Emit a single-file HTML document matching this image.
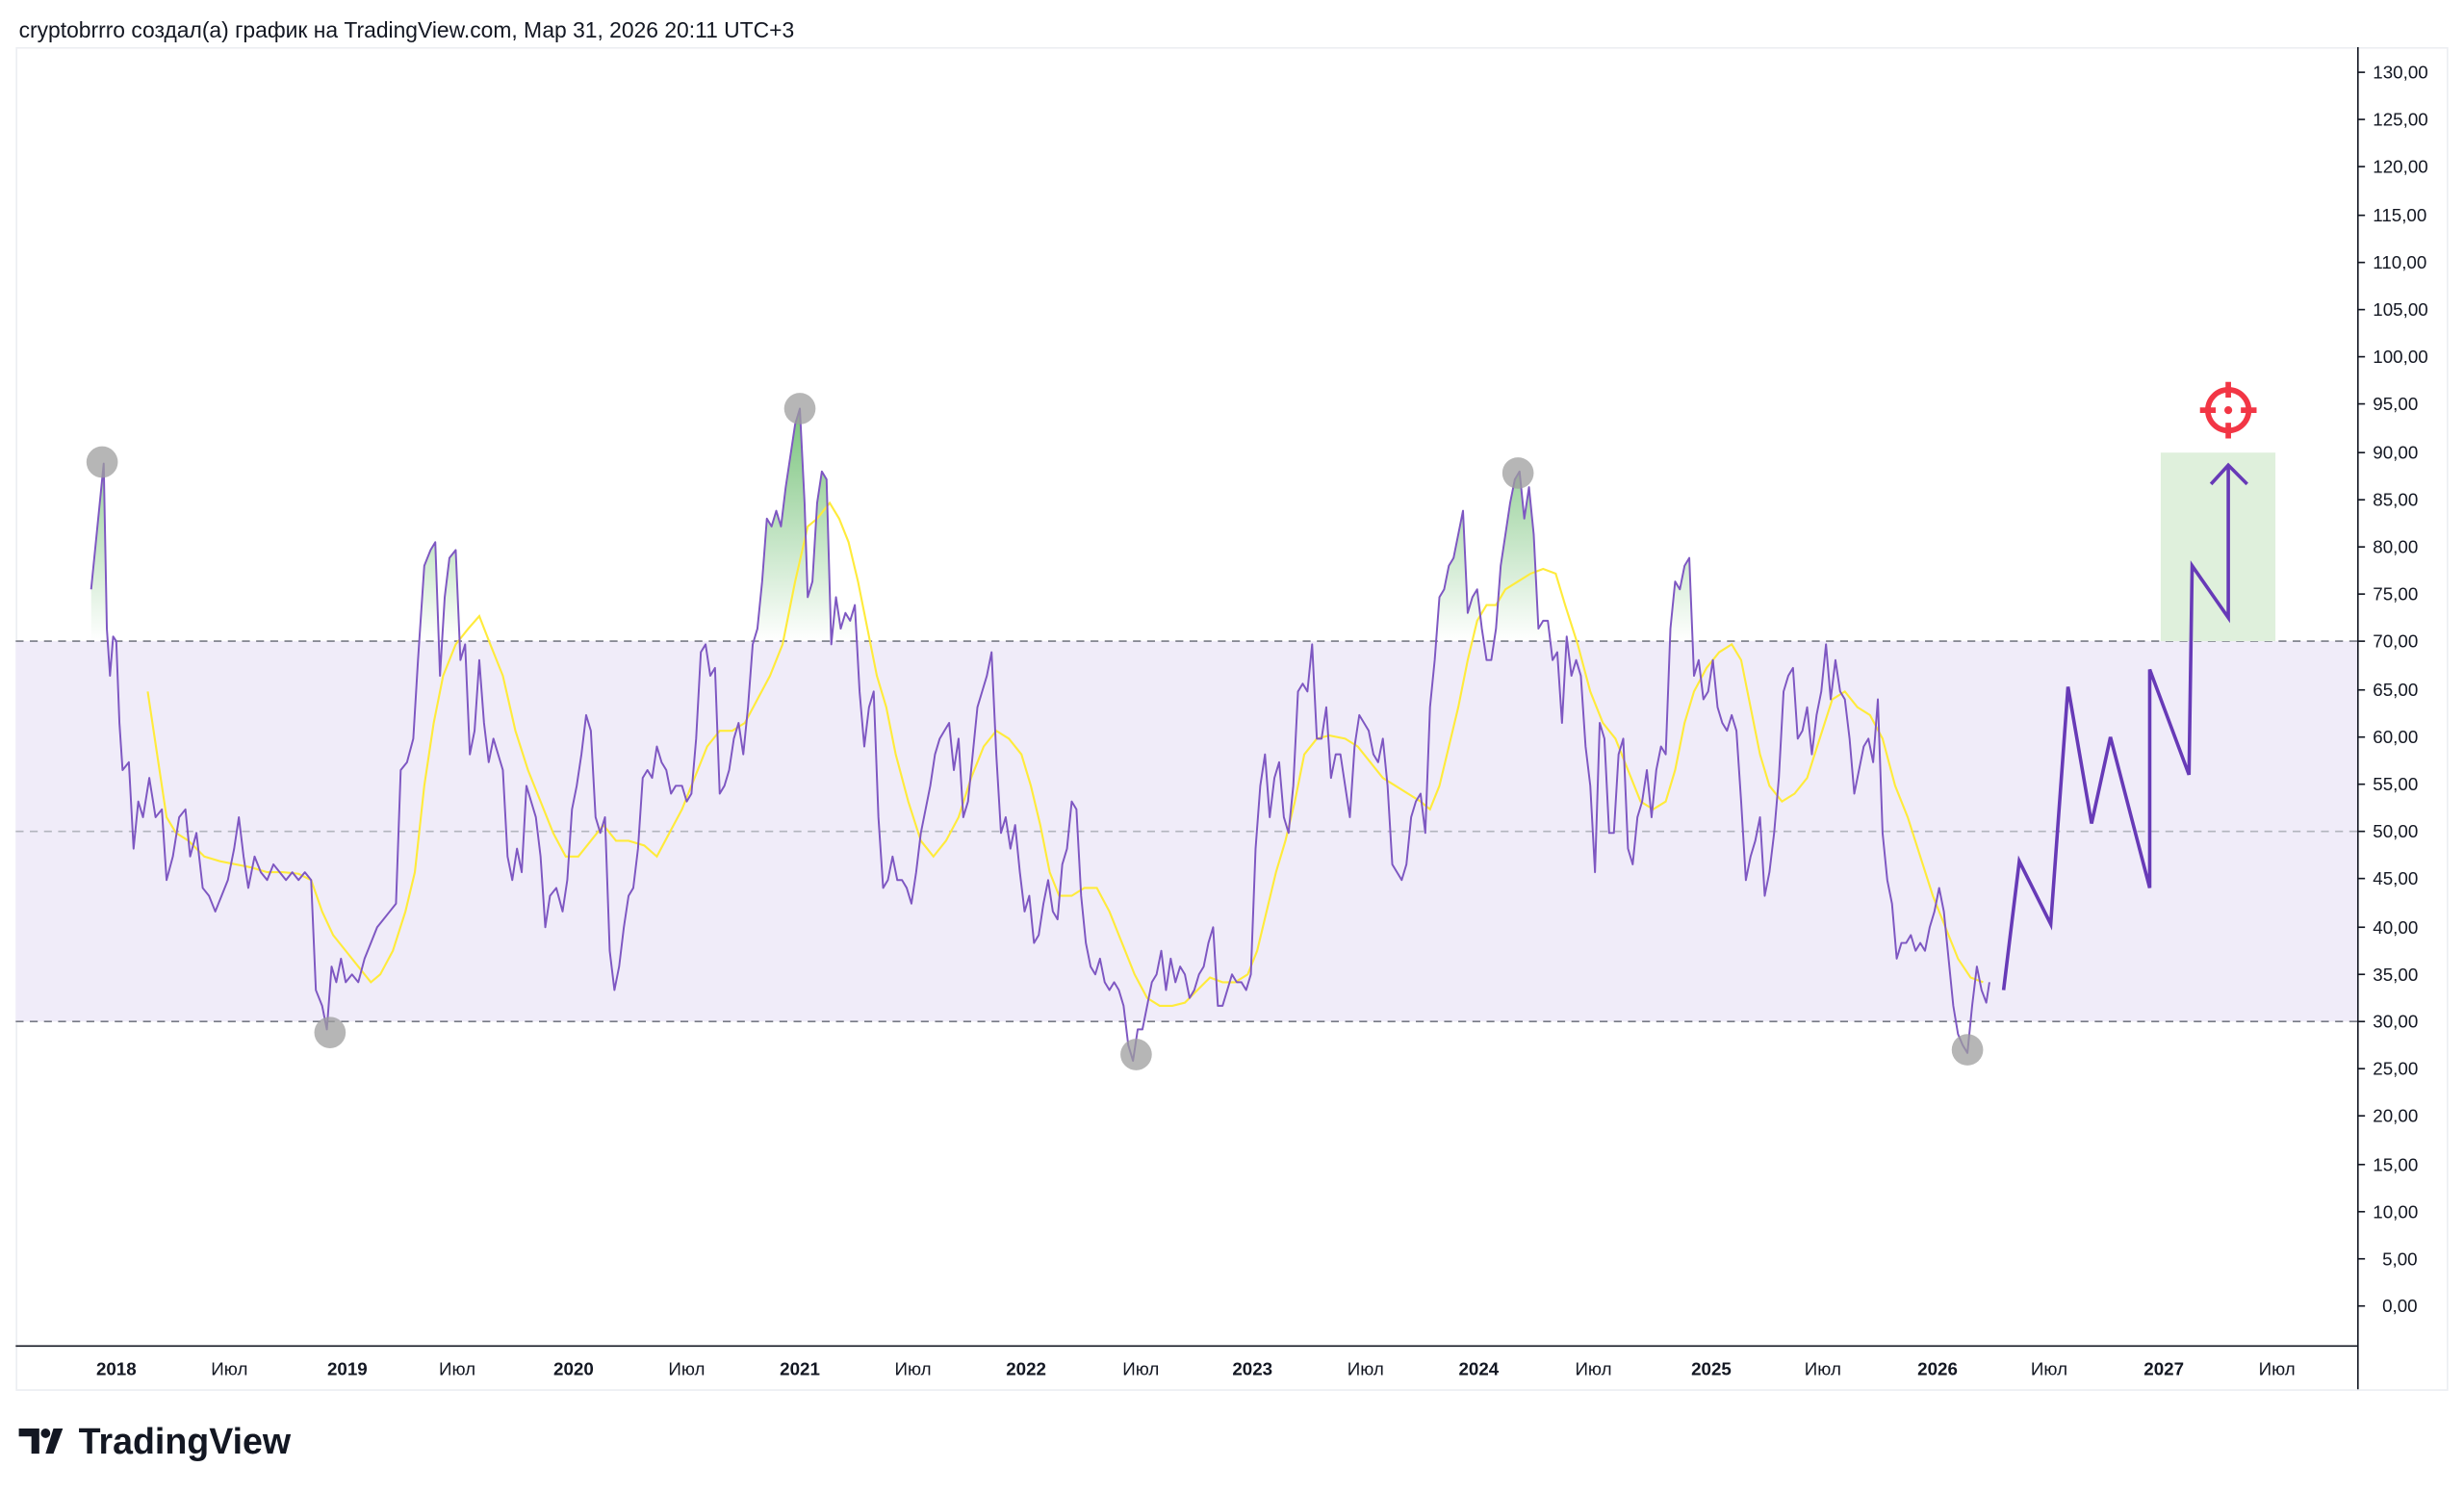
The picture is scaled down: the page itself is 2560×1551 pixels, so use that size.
<!DOCTYPE html>
<html><head><meta charset="utf-8"><style>
html,body{margin:0;padding:0;background:#fff;width:2560px;height:1551px;overflow:hidden}
svg{display:block}
</style></head><body>
<svg width="2560" height="1551" viewBox="0 0 1568 950" preserveAspectRatio="none" xmlns="http://www.w3.org/2000/svg" font-family="Liberation Sans, sans-serif">
<defs>
<linearGradient id="gg" gradientUnits="userSpaceOnUse" x1="0" y1="260" x2="0" y2="408">
<stop offset="0" stop-color="#4caf50" stop-opacity="0.75"/><stop offset="1" stop-color="#4caf50" stop-opacity="0"/></linearGradient>
<clipPath id="above"><rect x="10" y="30" width="1490" height="378"/></clipPath>
</defs>
<text x="12" y="24" font-size="14" fill="#131722">cryptobrrro создал(а) график на TradingView.com, Мар 31, 2026 20:11 UTC+3</text>
<rect x="10.5" y="30.5" width="1547" height="854" fill="none" stroke="#eceef2"/>
<rect x="10" y="408" width="1490" height="242" fill="#f0ecf9"/>
<g stroke-dasharray="5,4" stroke-width="1">
<line x1="10" y1="408" x2="1500" y2="408" stroke="#787b86"/>
<line x1="10" y1="529" x2="1500" y2="529" stroke="#b2b5be"/>
<line x1="10" y1="650" x2="1500" y2="650" stroke="#787b86"/>
</g>
<rect x="1375" y="288" width="73" height="120" fill="#dff0dc"/>
<polygon clip-path="url(#above)" fill="url(#gg)" points="58,900 58,375 66,295 68,400 70,430 72,405 74,408 76,460 78,490 82,485 85,540 88,510 91,520 95,495 99,520 103,515 106,560 110,545 114,520 118,515 121,545 125,530 129,565 133,570 137,580 141,570 145,560 149,540 152,520 155,545 158,565 162,545 166,555 170,560 174,550 178,555 182,560 186,555 190,560 194,555 198,560 201,630 205,640 208,655 211,615 214,625 217,610 220,625 224,620 228,625 232,610 236,600 240,590 244,585 248,580 252,575 255,490 259,485 263,470 266,420 270,360 274,350 277,345 280,430 283,380 286,355 290,350 293,420 296,410 299,480 302,465 305,420 308,460 311,485 314,470 317,480 320,490 323,545 326,560 329,540 332,555 335,500 338,510 341,520 344,545 347,590 350,570 354,565 358,580 361,560 364,515 367,500 370,480 373,455 376,465 379,520 382,530 385,520 388,605 391,630 394,615 397,590 400,570 403,565 406,540 409,495 412,490 415,495 418,475 421,485 424,490 427,505 430,500 434,500 437,510 440,505 443,470 446,415 449,410 452,430 455,425 458,505 461,500 464,490 467,470 470,460 473,480 476,450 479,410 482,400 485,370 488,330 491,335 494,325 497,335 500,310 503,290 506,270 509,260 512,320 514,380 517,370 520,320 523,300 526,305 529,410 532,380 535,400 538,390 541,395 544,385 547,440 550,475 553,450 556,440 559,520 562,565 565,560 568,545 571,560 574,560 577,565 580,575 583,555 586,530 589,515 592,500 595,480 598,470 601,465 604,460 607,490 610,470 613,520 616,510 619,480 622,450 625,440 628,430 631,415 634,480 637,530 640,520 643,540 646,525 649,555 652,580 655,570 658,600 661,595 664,575 667,560 670,580 673,585 676,550 679,540 682,510 685,515 688,570 691,600 694,615 697,620 700,610 703,625 706,630 709,625 712,630 715,640 718,665 721,675 724,655 727,655 730,640 733,625 736,620 739,605 742,630 745,610 748,625 751,615 754,620 757,635 760,630 763,620 766,615 769,600 772,590 775,640 778,640 781,630 784,620 787,625 790,625 793,630 796,620 799,540 802,500 805,480 808,520 811,495 814,485 817,520 820,530 823,500 826,440 829,435 832,440 835,410 838,470 841,470 844,450 847,495 850,480 853,480 856,500 859,520 862,475 865,455 868,460 871,465 874,480 877,485 880,470 883,500 886,550 889,555 892,560 895,550 898,520 901,510 904,505 907,530 910,450 913,420 916,380 919,375 922,360 925,355 928,340 931,325 934,390 937,380 940,375 943,400 946,420 949,420 952,400 955,360 958,340 961,320 964,305 967,300 970,330 973,310 976,340 979,400 982,395 985,395 988,420 991,415 994,460 997,405 1000,430 1003,420 1006,430 1009,475 1012,500 1015,555 1018,460 1021,470 1024,530 1027,530 1030,480 1033,470 1036,540 1039,550 1042,520 1045,510 1048,490 1051,520 1054,490 1057,475 1060,480 1063,400 1066,370 1069,375 1072,360 1075,355 1078,430 1081,420 1084,445 1087,440 1090,420 1093,450 1096,460 1099,465 1102,455 1105,465 1108,510 1111,560 1114,545 1117,535 1120,520 1123,570 1126,555 1129,530 1132,495 1135,440 1138,430 1141,425 1144,470 1147,465 1150,450 1153,480 1156,455 1159,440 1162,410 1165,445 1168,420 1171,440 1174,445 1177,470 1180,505 1183,490 1186,475 1189,470 1192,485 1195,445 1198,530 1201,560 1204,575 1207,610 1210,600 1213,600 1216,595 1219,605 1222,600 1225,605 1228,590 1231,580 1234,565 1237,580 1240,610 1243,640 1246,658 1249,665 1252,670 1255,640 1258,615 1261,630 1264,638 1266,625 1266,900"/>
<polyline fill="none" stroke="#ffeb3b" stroke-width="1.3" points="94,440 100,480 106,520 112,530 120,535 130,545 140,548 150,550 160,552 170,555 180,555 190,556 198,560 205,580 212,595 220,605 228,615 236,625 242,620 250,605 258,580 264,555 270,500 276,460 282,430 290,410 298,400 305,392 312,410 320,430 328,465 336,490 344,510 352,530 360,545 368,545 376,535 384,525 392,535 400,535 410,538 418,545 426,530 434,515 442,495 450,475 458,465 466,465 474,460 482,445 490,430 498,410 506,370 514,335 520,330 528,320 534,330 540,345 546,370 552,400 558,430 564,450 570,480 578,510 586,535 594,545 602,535 610,520 618,495 626,475 634,465 642,470 650,480 656,500 662,525 668,555 674,570 682,570 690,565 698,565 706,580 714,600 722,620 730,635 738,640 746,640 754,638 762,630 770,622 778,625 786,625 794,620 800,605 806,580 812,555 818,535 824,510 830,480 838,470 846,468 856,470 864,475 872,485 880,495 888,500 896,505 904,510 910,515 916,500 922,475 928,450 934,420 940,395 946,385 952,385 958,375 966,370 974,365 982,362 990,365 996,385 1004,410 1012,440 1020,460 1028,470 1036,490 1044,510 1052,515 1060,510 1066,490 1072,460 1078,440 1086,425 1094,415 1102,410 1108,420 1114,450 1120,480 1126,500 1134,510 1142,505 1150,495 1158,470 1166,445 1174,440 1182,450 1190,455 1198,470 1206,500 1214,520 1222,545 1230,570 1238,590 1246,610 1254,622 1262,625"/>
<polyline fill="none" stroke="#7e57c2" stroke-width="1.2" stroke-linejoin="round" points="58,375 66,295 68,400 70,430 72,405 74,408 76,460 78,490 82,485 85,540 88,510 91,520 95,495 99,520 103,515 106,560 110,545 114,520 118,515 121,545 125,530 129,565 133,570 137,580 141,570 145,560 149,540 152,520 155,545 158,565 162,545 166,555 170,560 174,550 178,555 182,560 186,555 190,560 194,555 198,560 201,630 205,640 208,655 211,615 214,625 217,610 220,625 224,620 228,625 232,610 236,600 240,590 244,585 248,580 252,575 255,490 259,485 263,470 266,420 270,360 274,350 277,345 280,430 283,380 286,355 290,350 293,420 296,410 299,480 302,465 305,420 308,460 311,485 314,470 317,480 320,490 323,545 326,560 329,540 332,555 335,500 338,510 341,520 344,545 347,590 350,570 354,565 358,580 361,560 364,515 367,500 370,480 373,455 376,465 379,520 382,530 385,520 388,605 391,630 394,615 397,590 400,570 403,565 406,540 409,495 412,490 415,495 418,475 421,485 424,490 427,505 430,500 434,500 437,510 440,505 443,470 446,415 449,410 452,430 455,425 458,505 461,500 464,490 467,470 470,460 473,480 476,450 479,410 482,400 485,370 488,330 491,335 494,325 497,335 500,310 503,290 506,270 509,260 512,320 514,380 517,370 520,320 523,300 526,305 529,410 532,380 535,400 538,390 541,395 544,385 547,440 550,475 553,450 556,440 559,520 562,565 565,560 568,545 571,560 574,560 577,565 580,575 583,555 586,530 589,515 592,500 595,480 598,470 601,465 604,460 607,490 610,470 613,520 616,510 619,480 622,450 625,440 628,430 631,415 634,480 637,530 640,520 643,540 646,525 649,555 652,580 655,570 658,600 661,595 664,575 667,560 670,580 673,585 676,550 679,540 682,510 685,515 688,570 691,600 694,615 697,620 700,610 703,625 706,630 709,625 712,630 715,640 718,665 721,675 724,655 727,655 730,640 733,625 736,620 739,605 742,630 745,610 748,625 751,615 754,620 757,635 760,630 763,620 766,615 769,600 772,590 775,640 778,640 781,630 784,620 787,625 790,625 793,630 796,620 799,540 802,500 805,480 808,520 811,495 814,485 817,520 820,530 823,500 826,440 829,435 832,440 835,410 838,470 841,470 844,450 847,495 850,480 853,480 856,500 859,520 862,475 865,455 868,460 871,465 874,480 877,485 880,470 883,500 886,550 889,555 892,560 895,550 898,520 901,510 904,505 907,530 910,450 913,420 916,380 919,375 922,360 925,355 928,340 931,325 934,390 937,380 940,375 943,400 946,420 949,420 952,400 955,360 958,340 961,320 964,305 967,300 970,330 973,310 976,340 979,400 982,395 985,395 988,420 991,415 994,460 997,405 1000,430 1003,420 1006,430 1009,475 1012,500 1015,555 1018,460 1021,470 1024,530 1027,530 1030,480 1033,470 1036,540 1039,550 1042,520 1045,510 1048,490 1051,520 1054,490 1057,475 1060,480 1063,400 1066,370 1069,375 1072,360 1075,355 1078,430 1081,420 1084,445 1087,440 1090,420 1093,450 1096,460 1099,465 1102,455 1105,465 1108,510 1111,560 1114,545 1117,535 1120,520 1123,570 1126,555 1129,530 1132,495 1135,440 1138,430 1141,425 1144,470 1147,465 1150,450 1153,480 1156,455 1159,440 1162,410 1165,445 1168,420 1171,440 1174,445 1177,470 1180,505 1183,490 1186,475 1189,470 1192,485 1195,445 1198,530 1201,560 1204,575 1207,610 1210,600 1213,600 1216,595 1219,605 1222,600 1225,605 1228,590 1231,580 1234,565 1237,580 1240,610 1243,640 1246,658 1249,665 1252,670 1255,640 1258,615 1261,630 1264,638 1266,625"/>
<polyline fill="none" stroke="#673ab7" stroke-width="2.2" points="1275,630 1285,548 1305,588 1316,437 1331,524 1343,469 1368,565 1368,426 1393,493 1395,360 1418,393 1418,296"/>
<polyline fill="none" stroke="#673ab7" stroke-width="2.2" points="1407,308 1418,296 1430,308"/>
<g fill="#9e9e9e" fill-opacity="0.75">
<circle cx="65" cy="294" r="10"/><circle cx="210" cy="657" r="10"/><circle cx="509" cy="260" r="10"/>
<circle cx="723" cy="671" r="10"/><circle cx="966" cy="301" r="10"/><circle cx="1252" cy="668" r="10"/>
</g>
<g stroke="#f23645" stroke-width="3.5" fill="none">
<circle cx="1418" cy="261" r="13"/>
<line x1="1418" y1="243" x2="1418" y2="253"/><line x1="1418" y1="269" x2="1418" y2="279"/>
<line x1="1400" y1="261" x2="1410" y2="261"/><line x1="1426" y1="261" x2="1436" y2="261"/>
</g>
<circle cx="1418" cy="261" r="2.5" fill="#f23645"/>
<line x1="1500.5" y1="30" x2="1500.5" y2="884" stroke="#131722" stroke-width="1"/>
<line x1="10" y1="856.5" x2="1500" y2="856.5" stroke="#131722" stroke-width="1"/>
<g font-size="11.5" fill="#131722">
<g stroke="#131722"><line x1="1500" y1="46" x2="1505" y2="46"/><line x1="1500" y1="76" x2="1505" y2="76"/><line x1="1500" y1="106" x2="1505" y2="106"/><line x1="1500" y1="137" x2="1505" y2="137"/><line x1="1500" y1="167" x2="1505" y2="167"/><line x1="1500" y1="197" x2="1505" y2="197"/><line x1="1500" y1="227" x2="1505" y2="227"/><line x1="1500" y1="257" x2="1505" y2="257"/><line x1="1500" y1="288" x2="1505" y2="288"/><line x1="1500" y1="318" x2="1505" y2="318"/><line x1="1500" y1="348" x2="1505" y2="348"/><line x1="1500" y1="378" x2="1505" y2="378"/><line x1="1500" y1="408" x2="1505" y2="408"/><line x1="1500" y1="439" x2="1505" y2="439"/><line x1="1500" y1="469" x2="1505" y2="469"/><line x1="1500" y1="499" x2="1505" y2="499"/><line x1="1500" y1="529" x2="1505" y2="529"/><line x1="1500" y1="559" x2="1505" y2="559"/><line x1="1500" y1="590" x2="1505" y2="590"/><line x1="1500" y1="620" x2="1505" y2="620"/><line x1="1500" y1="650" x2="1505" y2="650"/><line x1="1500" y1="680" x2="1505" y2="680"/><line x1="1500" y1="710" x2="1505" y2="710"/><line x1="1500" y1="741" x2="1505" y2="741"/><line x1="1500" y1="771" x2="1505" y2="771"/><line x1="1500" y1="801" x2="1505" y2="801"/><line x1="1500" y1="831" x2="1505" y2="831"/></g>
<text x="1510" y="50">130,00</text><text x="1510" y="80">125,00</text><text x="1510" y="110">120,00</text><text x="1510" y="141">115,00</text><text x="1510" y="171">110,00</text><text x="1510" y="201">105,00</text><text x="1510" y="231">100,00</text><text x="1510" y="261">95,00</text><text x="1510" y="292">90,00</text><text x="1510" y="322">85,00</text><text x="1510" y="352">80,00</text><text x="1510" y="382">75,00</text><text x="1510" y="412">70,00</text><text x="1510" y="443">65,00</text><text x="1510" y="473">60,00</text><text x="1510" y="503">55,00</text><text x="1510" y="533">50,00</text><text x="1510" y="563">45,00</text><text x="1510" y="594">40,00</text><text x="1510" y="624">35,00</text><text x="1510" y="654">30,00</text><text x="1510" y="684">25,00</text><text x="1510" y="714">20,00</text><text x="1510" y="745">15,00</text><text x="1510" y="775">10,00</text><text x="1516" y="805">5,00</text><text x="1516" y="835">0,00</text>
</g>
<g font-size="11.5" fill="#131722" text-anchor="middle">
<text x="74" y="875" font-weight="bold">2018</text><text x="146" y="875">Июл</text>
<text x="221" y="875" font-weight="bold">2019</text><text x="291" y="875">Июл</text>
<text x="365" y="875" font-weight="bold">2020</text><text x="437" y="875">Июл</text>
<text x="509" y="875" font-weight="bold">2021</text><text x="581" y="875">Июл</text>
<text x="653" y="875" font-weight="bold">2022</text><text x="726" y="875">Июл</text>
<text x="797" y="875" font-weight="bold">2023</text><text x="869" y="875">Июл</text>
<text x="941" y="875" font-weight="bold">2024</text><text x="1014" y="875">Июл</text>
<text x="1089" y="875" font-weight="bold">2025</text><text x="1160" y="875">Июл</text>
<text x="1233" y="875" font-weight="bold">2026</text><text x="1304" y="875">Июл</text>
<text x="1377" y="875" font-weight="bold">2027</text><text x="1449" y="875">Июл</text>
</g>
<g fill="#131722">
<path d="M12 909h13v16h-5v-11h-8z"/><circle cx="29" cy="912" r="3"/><path d="M34 909h6l-6 16h-5z"/>
<text x="50" y="925" font-size="23" font-weight="bold">TradingView</text>
</g>
</svg>
</body></html>
